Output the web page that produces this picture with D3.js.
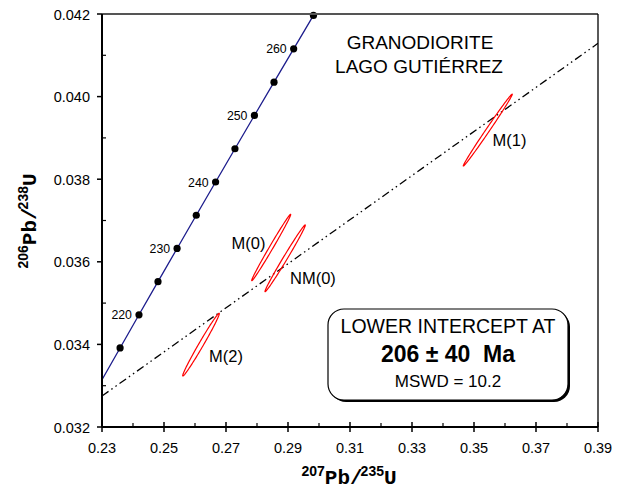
<!DOCTYPE html>
<html>
<head>
<meta charset="utf-8">
<script src="https://cdn.jsdelivr.net/npm/d3@7"></script>
<style>
  body { margin: 0; background: #fff; }
  svg { font-family: "Liberation Sans", Arial, sans-serif; }
</style>
</head>
<body>
<svg width="620" height="494"></svg>
<script>
// concordia ages (Ma) and ratios
var concAges = [210, 215, 220, 225, 230, 235, 240, 245, 250, 255, 260, 265];
var concX = [0.22976, 0.23583, 0.24193, 0.24806, 0.25422, 0.26041, 0.26664, 0.27289, 0.27917, 0.28549, 0.29183, 0.29821];
var concY = [0.033113, 0.033914, 0.034717, 0.035519, 0.036323, 0.037127, 0.037932, 0.038737, 0.039543, 0.040349, 0.041157, 0.041965];
var concLabels = [220, 230, 240, 250, 260];

// discordia end points
var discX = [0.23, 0.39];
var discY = [0.03275, 0.04129];

// analyses: centre, half extents, correlation
var ellNames = ["M(2)", "M(0)", "NM(0)", "M(1)"];
var ellCx = [0.261935, 0.28458, 0.28908, 0.35445];
var ellCy = [0.033994, 0.036346, 0.036084, 0.03919];
var ellSx = [0.005905, 0.00629, 0.0065, 0.0079];
var ellSy = [0.000759, 0.000804, 0.000808, 0.00087];
var ellRho = [0.9894, 0.9943, 0.9932, 0.996];

var xTicks = [0.23, 0.25, 0.27, 0.29, 0.31, 0.33, 0.35, 0.37, 0.39];
var yTicks = [0.032, 0.034, 0.036, 0.038, 0.040, 0.042];

(function() {
var svg = d3.select("svg"),
    pL = 102, pR = 598, pT = 14, pB = 427;

var xScale = d3.scaleLinear().domain([0.23, 0.39]).range([pL, pR]);
var yScale = d3.scaleLinear().domain([0.032, 0.042]).range([pB, pT]);

svg.append("clipPath").attr("id", "plotclip")
    .append("rect")
    .attr("x", pL).attr("y", pT)
    .attr("width", pR - pL).attr("height", pB - pT);

var plot = svg.append("g").attr("clip-path", "url(#plotclip)");

// discordia
plot.append("line")
    .attr("x1", xScale(discX[0])).attr("y1", yScale(discY[0]))
    .attr("x2", xScale(discX[1])).attr("y2", yScale(discY[1]))
    .attr("stroke", "#000")
    .attr("stroke-width", 1.3)
    .attr("stroke-dasharray", "8,3.5,1.5,3.5,1.5,3.5");

// concordia curve
var line = d3.line()
    .x(function(d, i) { return xScale(concX[i]); })
    .y(function(d, i) { return yScale(concY[i]); });
plot.append("path")
    .datum(concAges)
    .attr("d", line)
    .attr("fill", "none")
    .attr("stroke", "#1c1c8c")
    .attr("stroke-width", 1.3);

// ellipses
ellNames.forEach(function(name, k) {
    var pts = d3.range(0, 361, 3).map(function(a) {
        var t = a * Math.PI / 180;
        var ex = ellCx[k] + ellSx[k] * Math.cos(t);
        var ey = ellCy[k] + ellSy[k] * (ellRho[k] * Math.cos(t) + Math.sqrt(1 - ellRho[k] * ellRho[k]) * Math.sin(t));
        return [xScale(ex), yScale(ey)];
    });
    svg.append("path")
        .attr("d", d3.line().curve(d3.curveLinearClosed)(pts))
        .attr("fill", "none")
        .attr("stroke", "#f00")
        .attr("stroke-width", 1.2);
});

// concordia points
svg.selectAll(".dot")
    .data(concAges.slice(1))
    .enter().append("circle")
    .attr("class", "dot")
    .attr("cx", function(d, i) { return xScale(concX[i + 1]); })
    .attr("cy", function(d, i) { return yScale(concY[i + 1]); })
    .attr("r", 3.6)
    .attr("fill", "#000");

svg.selectAll(".agelab")
    .data(concLabels)
    .enter().append("text")
    .attr("class", "agelab")
    .attr("x", function(d) { return xScale(concX[concAges.indexOf(d)]) - 7; })
    .attr("y", function(d) { return yScale(concY[concAges.indexOf(d)]) + 4.5; })
    .attr("text-anchor", "end")
    .attr("font-size", 12.3)
    .text(function(d) { return d; });

// ellipse labels
var labPos = [[209, 362], [231.5, 248.5], [290, 283.5], [492.5, 146]];
ellNames.forEach(function(name, k) {
    svg.append("text")
        .attr("x", labPos[k][0]).attr("y", labPos[k][1])
        .attr("font-size", 16.5)
        .text(name);
});

// frame: top grey, right thin
svg.append("line").attr("x1", pL).attr("x2", pR).attr("y1", pT).attr("y2", pT)
    .attr("stroke", "#555").attr("stroke-width", 2);
svg.append("line").attr("x1", pR).attr("x2", pR).attr("y1", pT).attr("y2", pB)
    .attr("stroke", "#000").attr("stroke-width", 1.3);

// axes
var xAxis = svg.append("g").attr("transform", "translate(0," + pB + ")");
xAxis.append("line").attr("x1", pL).attr("x2", pR).attr("stroke", "#000").attr("stroke-width", 2);
d3.range(0.24, 0.39, 0.02).forEach(function(v) {
    xAxis.append("line").attr("x1", xScale(v)).attr("x2", xScale(v)).attr("y1", 0).attr("y2", -4)
        .attr("stroke", "#000").attr("stroke-width", 1.2);
});
xTicks.forEach(function(v) {
    xAxis.append("line").attr("x1", xScale(v)).attr("x2", xScale(v)).attr("y1", -5).attr("y2", 5)
        .attr("stroke", "#000").attr("stroke-width", 1.5);
    xAxis.append("text").attr("x", xScale(v)).attr("y", 26)
        .attr("text-anchor", "middle").attr("font-size", 14.5)
        .text(d3.format(".2f")(v));
});

var yAxis = svg.append("g").attr("transform", "translate(" + pL + ",0)");
yAxis.append("line").attr("y1", pT).attr("y2", pB).attr("stroke", "#000").attr("stroke-width", 2);
d3.range(0.033, 0.042, 0.002).forEach(function(v) {
    yAxis.append("line").attr("y1", yScale(v)).attr("y2", yScale(v)).attr("x1", 0).attr("x2", 4)
        .attr("stroke", "#000").attr("stroke-width", 1.2);
});
yTicks.forEach(function(v) {
    yAxis.append("line").attr("y1", yScale(v)).attr("y2", yScale(v)).attr("x1", -5).attr("x2", 0)
        .attr("stroke", "#000").attr("stroke-width", 1.5);
    yAxis.append("text").attr("x", -12).attr("y", yScale(v) + 5.5)
        .attr("text-anchor", "end").attr("font-size", 14.5)
        .text(d3.format(".3f")(v));
});

// axis titles
function axisTitle(sel, a, b) {
    sel.append("tspan").attr("font-size", 14).attr("font-weight", "bold").attr("dy", -8).text(a);
    sel.append("tspan").attr("font-family", "Liberation Mono, Courier New, monospace").attr("font-weight", "bold")
        .attr("font-size", 21).attr("dy", 8).text("Pb/");
    sel.append("tspan").attr("font-size", 14).attr("font-weight", "bold").attr("dx", -2).attr("dy", -8).text(b);
    sel.append("tspan").attr("font-family", "Liberation Mono, Courier New, monospace").attr("font-weight", "bold")
        .attr("font-size", 21).attr("dy", 8).text("U");
}
axisTitle(svg.append("text").attr("x", 349).attr("y", 484).attr("text-anchor", "middle"), "207", "235");
axisTitle(svg.append("text").attr("transform", "translate(36,221) rotate(-90)").attr("text-anchor", "middle"), "206", "238");

// sample title
svg.append("text").attr("x", 420).attr("y", 48.5).attr("text-anchor", "middle")
    .attr("font-size", 19).text("GRANODIORITE");
svg.append("text").attr("x", 419).attr("y", 72.5).attr("text-anchor", "middle")
    .attr("font-size", 19).text("LAGO GUTIÉRREZ");

// result box
var bx = 328, by = 309, bw = 240, bh = 91;
svg.append("rect").attr("x", bx + 2).attr("y", by + 2).attr("width", bw).attr("height", bh)
    .attr("rx", 16).attr("fill", "#000");
svg.append("rect").attr("x", bx).attr("y", by).attr("width", bw).attr("height", bh)
    .attr("rx", 16).attr("fill", "#fff").attr("stroke", "#000").attr("stroke-width", 1.2);
svg.append("text").attr("x", bx + bw / 2).attr("y", 333).attr("text-anchor", "middle")
    .attr("font-size", 19.5).text("LOWER INTERCEPT AT");
svg.append("text").attr("x", bx + bw / 2).attr("y", 361.5).attr("text-anchor", "middle")
    .attr("font-size", 23).attr("font-weight", "bold").text("206 ± 40\u00a0\u00a0Ma");
svg.append("text").attr("x", bx + bw / 2).attr("y", 386.5).attr("text-anchor", "middle")
    .attr("font-size", 17).text("MSWD = 10.2");
})();
</script>
</body>
</html>
